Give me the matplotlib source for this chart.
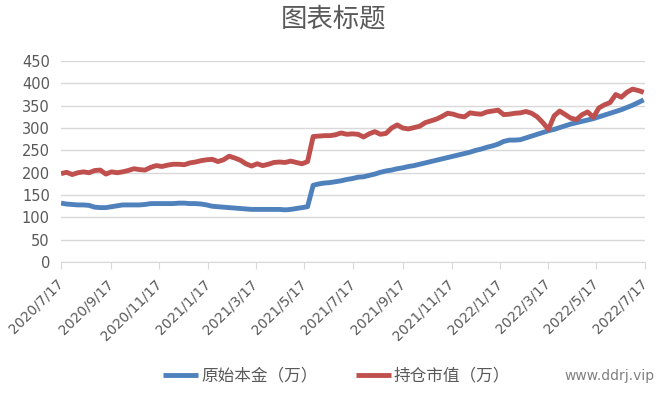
import numpy as np
import pandas as pd
import matplotlib
matplotlib.use("Agg")
import matplotlib.pyplot as plt

# 每周数据（万）
start_date = "2020-07-17"
principal = [
    132, 130, 129, 128, 128, 127, 123, 122, 122, 124,
    126, 128, 128, 128, 128, 129, 131, 131, 131, 131,
    131, 132, 132, 131, 131, 130, 128, 125, 124, 123,
    122, 121, 120, 119, 118, 118, 118, 118, 118, 118,
    117, 118, 120, 122, 124, 172, 175, 177, 178, 180,
    182, 185, 187, 190, 191, 194, 197, 201, 204, 206,
    209, 211, 214, 216, 219, 222, 225, 228, 231, 234,
    237, 240, 243, 246, 250, 253, 257, 260, 264, 270,
    273, 273, 274, 278, 282, 286, 290, 294, 297, 301,
    305, 309, 312, 315, 318, 321, 325, 329, 333, 337,
    341, 346, 351, 357, 363,
]
market_value = [
    198, 201, 196, 200, 202, 200, 205, 206, 197, 202,
    200, 202, 205, 209, 207, 206, 212, 216, 214, 217,
    219, 219, 218, 222, 224, 227, 229, 230, 225, 229,
    237, 233, 228, 220, 215, 220, 216, 219, 223, 224,
    223, 226, 223, 220, 225, 281, 282, 283, 283, 285,
    289, 286, 287, 286, 280, 287, 292, 286, 288, 300,
    307, 300, 298, 301, 304, 312, 316, 320, 326, 333,
    331, 327, 325, 334, 332, 331, 336, 338, 340, 330,
    331, 333, 334, 337, 333, 325, 312, 297, 327, 338,
    330, 322, 319, 330, 336, 324, 345, 352, 357, 375,
    369, 380, 387, 384, 380,
]
series_names = ["原始本金（万）", "持仓市值（万）"]
tick_labels = [
    "2020/7/17", "2020/9/17", "2020/11/17", "2021/1/17", "2021/3/17",
    "2021/5/17", "2021/7/17", "2021/9/17", "2021/11/17", "2022/1/17",
    "2022/3/17", "2022/5/17", "2022/7/17",
]
tick_dates = pd.to_datetime(tick_labels, format="%Y/%m/%d")

dates = pd.date_range(start_date, periods=len(principal), freq="7D")

gray = "#595959"
grid = "#d9d9d9"
cjk = ["Noto Sans CJK SC", "DejaVu Sans"]

fig = plt.figure(figsize=(6.67, 3.96), dpi=100)
ax = fig.add_axes([0.0915, 0.338, 0.876, 0.508])

ax.plot(dates, principal, color="#4F81BD", lw=3.5, solid_capstyle="butt", label=series_names[0])
ax.plot(dates, market_value, color="#C0504D", lw=3.5, solid_capstyle="butt", label=series_names[1])

ax.set_ylim(0, 450)
ax.set_yticks(range(0, 451, 50))
ax.set_xlim(tick_dates[0], tick_dates[-1])
ax.set_xticks(tick_dates)
ax.set_xticklabels(tick_labels, rotation=45, ha="right", va="center", rotation_mode="anchor")

ax.grid(axis="y", color=grid, lw=1)
ax.set_axisbelow(True)
for s in ["top", "right", "left"]:
    ax.spines[s].set_visible(False)
ax.spines["bottom"].set_color(grid)
ax.tick_params(axis="y", length=0, labelsize=10.5, labelcolor=gray, pad=8)
ax.tick_params(axis="x", length=5, color=grid, labelsize=10, labelcolor=gray, pad=9)

fig.text(0.5, 0.953, "图表标题", ha="center", va="center", fontsize=19, color=gray, family=cjk)

leg = fig.legend(loc="center", bbox_to_anchor=(0.505, 0.05), ncol=2, frameon=False,
                 handlelength=2.1, columnspacing=2.25, handletextpad=0.2,
                 prop={"family": cjk, "size": 12})
for t in leg.get_texts():
    t.set_color(gray)

fig.text(0.982, 0.05, "www.ddrj.vip", ha="right", va="center", fontsize=10, color="#808080")

fig.savefig("out.png", dpi=100)
